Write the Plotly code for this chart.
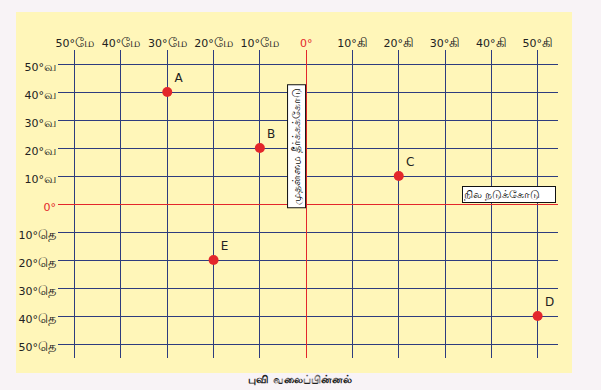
import plotly.graph_objects as go

# Data
lon_vals = [-50, -40, -30, -20, -10, 0, 10, 20, 30, 40, 50]
lon_labels = ["50°மே", "40°மே", "30°மே", "20°மே", "10°மே", "0°",
              "10°கி", "20°கி", "30°கி", "40°கி", "50°கி"]
lat_vals = [50, 40, 30, 20, 10, 0, -10, -20, -30, -40, -50]
lat_labels = ["50°வ", "40°வ", "30°வ", "20°வ", "10°வ", "0°",
              "10°தெ", "20°தெ", "30°தெ", "40°தெ", "50°தெ"]
point_names = ["A", "B", "C", "D", "E"]
point_lon = [-30, -10, 20, 50, -20]
point_lat = [40, 20, 10, -40, -20]

RED = "#E3262B"
GRID = "#2E3C7E"
FONT = "DejaVu Sans, Noto Sans, sans-serif"

def fmt(labels):
    out = []
    for t in labels:
        if t == "0°":
            out.append('<span style="color:%s">%s</span>' % (RED, t))
        else:
            num, suf = t.split("°")
            out.append('%s°<span style="font-size:13px">%s</span>' % (num, suf))
    return out

fig = go.Figure()
fig.add_trace(go.Scatter(
    x=point_lon, y=point_lat, mode="markers+text",
    text=point_names, textposition="top right",
    textfont=dict(size=12, color="#222222", family=FONT),
    marker=dict(size=10, color=RED),
    cliponaxis=False, hoverinfo="skip", showlegend=False,
))

# yellow panel
fig.add_shape(type="rect", xref="paper", yref="paper",
              x0=-0.084, x1=1.028, y0=-0.049, y1=1.123,
              fillcolor="#FFF6B9", line=dict(width=0), layer="below")

fig.add_annotation(x=0, y=20.5, xref="x", yref="y", xanchor="right", yanchor="middle",
                   text="முதன்மை தீர்க்கக்கோடு", textangle=-90, showarrow=False,
                   font=dict(size=11, color="#111111", family=FONT),
                   bgcolor="white", bordercolor="#111111", borderwidth=1, borderpad=2)
fig.add_annotation(x=54, y=0.2, xref="x", yref="y", xanchor="right", yanchor="bottom",
                   text="நில நடுக்கோடு", showarrow=False, width=90, align="left",
                   font=dict(size=11, color="#111111", family=FONT),
                   bgcolor="white", bordercolor="#111111", borderwidth=1, borderpad=1)
fig.add_annotation(x=0.484, y=-0.0714, xref="paper", yref="paper", xanchor="center", yanchor="middle",
                   text="<b>புவி வலைப்பின்னல்</b>", showarrow=False,
                   font=dict(size=11, color="#222222", family=FONT))

fig.update_xaxes(range=[-53.6, 54.4], side="top", tickvals=lon_vals, ticktext=fmt(lon_labels),
                 showgrid=True, gridcolor=GRID, gridwidth=1.2,
                 zeroline=True, zerolinecolor=RED, zerolinewidth=1.2,
                 showline=False, ticks="", tickfont=dict(size=11, color="#222222", family=FONT),
                 automargin=False, fixedrange=True)
fig.update_yaxes(range=[-55, 55], tickvals=lat_vals, ticktext=fmt(lat_labels),
                 showgrid=True, gridcolor=GRID, gridwidth=1.2,
                 zeroline=True, zerolinecolor=RED, zerolinewidth=1.2,
                 showline=False, ticks="", tickfont=dict(size=11, color="#222222", family=FONT),
                 ticklabelshift=3, ticklabelstandoff=1,
                 automargin=False, fixedrange=True)

fig.update_layout(width=601, height=390, margin=dict(l=58, r=43, t=50, b=32, autoexpand=False),
                  paper_bgcolor="#F8F3F6", plot_bgcolor="rgba(0,0,0,0)",
                  showlegend=False)

fig.write_html("out.html", config={"displayModeBar": False},
               post_script="document.body.style.margin='0';document.body.style.overflow='hidden';")
